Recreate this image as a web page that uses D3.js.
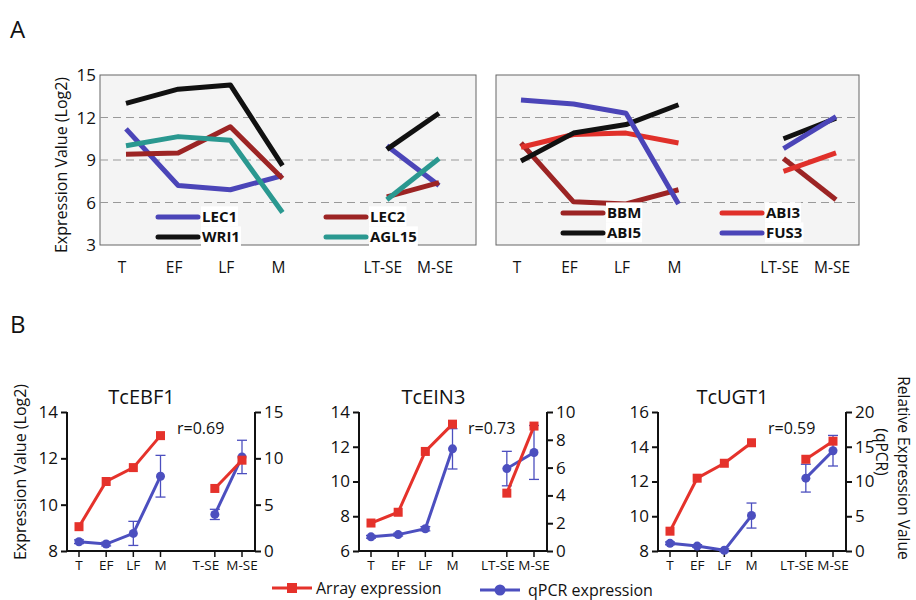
<!DOCTYPE html>
<html>
<head>
<meta charset="utf-8">
<script src="https://cdn.jsdelivr.net/npm/d3@7/dist/d3.min.js"></script>
<style>
  body { margin: 0; background: #fff; }
  text { font-family: "Open Sans", sans-serif; fill: #111; }
</style>
</head>
<body>
<div id="main"></div>
<script>
  'use strict';

  // ---- panel A data (Log2 expression) ----
  var stagesA = ['T', 'EF', 'LF', 'M', 'LT-SE', 'M-SE'];
  var ticksA = [3, 6, 9, 12, 15];

  var lec1  = [11.2, 7.2, 6.9, 7.9, 10.0, 7.2];
  var lec2  = [9.4, 9.5, 11.35, 7.7, 6.4, 7.4];
  var wri1  = [13.0, 14.0, 14.3, 8.6, 9.75, 12.3];
  var agl15 = [10.0, 10.65, 10.4, 5.3, 6.2, 9.1];

  var bbm   = [10.2, 6.05, 5.9, 6.9, 9.1, 6.2];
  var abi3  = [9.9, 10.8, 10.9, 10.2, 8.2, 9.5];
  var abi5  = [8.93, 10.9, 11.5, 12.9, 10.5, 11.95];
  var fus3  = [13.24, 12.95, 12.3, 5.9, 9.8, 12.06];

  // ---- panel B data ----
  var stagesB1 = ['T', 'EF', 'LF', 'M', 'T-SE', 'M-SE'];
  var stagesB  = ['T', 'EF', 'LF', 'M', 'LT-SE', 'M-SE'];

  var ebf1Array = [9.05, 11.0, 11.6, 12.98, 10.7, 11.92];
  var ebf1Qpcr  = [1.0, 0.75, 1.9, 8.07, 3.95, 10.15];
  var ebf1Err   = [0.2, 0.2, 1.3, 2.25, 0.55, 1.8];

  var ein3Array = [7.61, 8.23, 11.73, 13.3, 9.33, 13.19];
  var ein3Qpcr  = [1.02, 1.18, 1.6, 7.35, 5.93, 7.09];
  var ein3Err   = [0.1, 0.1, 0.15, 1.45, 1.24, 1.94];

  var ugt1Array = [9.14, 12.19, 13.05, 14.23, 13.28, 14.32];
  var ugt1Qpcr  = [1.1, 0.71, 0.1, 5.1, 10.48, 14.43];
  var ugt1Err   = [0.2, 0.2, 0.2, 1.8, 2.0, 2.2];

  var RED = '#e5322b', BLUE = '#4c4fbf';

  var svg = d3.select('#main').append('svg')
    .attr('width', 916)
    .attr('height', 600);

  svg.append('text').attr('x', 10).attr('y', 38)
    .style('font-size', '24px').text('A');
  svg.append('text').attr('x', 10).attr('y', 333)
    .style('font-size', '24px').text('B');

  // stage index -> slot, leaving a gap between M and the SE samples
  function slot(i) { return i < 4 ? i : i + 1; }

  // ---------------- panel A ----------------
  var yA = d3.scaleLinear().domain([3, 15]).range([245, 75]);

  function drawPanelA(box, xr, genes, legend, showY) {
    var g = svg.append('g');
    var x = d3.scaleLinear().domain([0, 6]).range(xr);

    g.append('rect')
      .attr('x', box[0]).attr('y', yA(15))
      .attr('width', box[1] - box[0]).attr('height', yA(3) - yA(15))
      .attr('fill', '#f4f4f4').attr('stroke', '#666').attr('stroke-width', 1);

    g.selectAll('line.grid').data([6, 9, 12]).enter().append('line')
      .attr('class', 'grid')
      .attr('x1', box[0]).attr('x2', box[1])
      .attr('y1', function (d) { return yA(d); })
      .attr('y2', function (d) { return yA(d); })
      .attr('stroke', '#999').attr('stroke-dasharray', '8,5');

    if (showY) {
      g.selectAll('text.ytick').data(ticksA).enter().append('text')
        .attr('class', 'ytick')
        .attr('x', box[0] - 4).attr('y', function (d) { return yA(d); })
        .attr('dy', '0.36em').attr('text-anchor', 'end')
        .style('font-size', '17px').text(function (d) { return d; });
      g.append('text')
        .attr('transform', 'translate(67,165) rotate(-90)')
        .attr('text-anchor', 'middle')
        .style('font-size', '16px').text('Expression Value (Log2)');
    }

    g.selectAll('text.xlab').data(stagesA).enter().append('text')
      .attr('class', 'xlab')
      .attr('x', function (d, i) { return x(slot(i)) - 4; })
      .attr('y', 273).attr('text-anchor', 'middle')
      .style('font-size', '15.5px').text(function (d) { return d; });

    var line = d3.line()
      .x(function (d) { return x(slot(d.i)); })
      .y(function (d) { return yA(d.v); });

    genes.forEach(function (gene) {
      var pts = gene.values.map(function (v, i) { return { i: i, v: v }; });
      [pts.slice(0, 4), pts.slice(4)].forEach(function (seg) {
        g.append('path').datum(seg)
          .attr('d', line)
          .attr('fill', 'none')
          .attr('stroke', gene.color)
          .attr('stroke-width', 5)
          .attr('stroke-linejoin', 'round');
      });
    });

    // legend
    legend.forEach(function (item) {
      var gene = genes[item.gene];
      var tx = item.x + 44;
      var t = g.append('text')
        .attr('x', tx).attr('y', item.y).attr('dy', '0.36em')
        .style('font-size', '15px').style('font-weight', 'bold')
        .text(gene.name);
      var bb = t.node().getBBox();
      g.insert('rect', function () { return t.node(); })
        .attr('x', bb.x - 1).attr('y', bb.y)
        .attr('width', bb.width + 2).attr('height', bb.height)
        .attr('fill', '#fff');
      g.append('line')
        .attr('x1', item.x).attr('x2', item.x + 40)
        .attr('y1', item.y).attr('y2', item.y)
        .attr('stroke', gene.color).attr('stroke-width', 5)
        .attr('stroke-linecap', 'round');
    });
  }

  drawPanelA([100, 476], [126, 439], [
      { name: 'LEC1', values: lec1, color: '#4b45b8' },
      { name: 'LEC2', values: lec2, color: '#9c2424' },
      { name: 'WRI1', values: wri1, color: '#111111' },
      { name: 'AGL15', values: agl15, color: '#2a9890' }
    ], [
      { gene: 0, x: 158, y: 217 },
      { gene: 1, x: 326, y: 217 },
      { gene: 2, x: 158, y: 237 },
      { gene: 3, x: 326, y: 237 }
    ], true);

  drawPanelA([496, 859], [521, 836], [
      { name: 'BBM', values: bbm, color: '#9c2424' },
      { name: 'ABI3', values: abi3, color: '#e0302a' },
      { name: 'ABI5', values: abi5, color: '#111111' },
      { name: 'FUS3', values: fus3, color: '#4b45b8' }
    ], [
      { gene: 0, x: 563, y: 213 },
      { gene: 1, x: 722, y: 213 },
      { gene: 2, x: 563, y: 233 },
      { gene: 3, x: 722, y: 233 }
    ], false);

  // ---------------- panel B ----------------
  function drawPanelB(cfg) {
    var g = svg.append('g');
    var left = cfg.left, right = cfg.left + 188;
    var x = d3.scaleLinear().domain([0, 6]).range([left + 12, left + 175]);
    var yL = d3.scaleLinear().domain(cfg.leftDomain).range([551, 412]);
    var yR = d3.scaleLinear().domain(cfg.rightDomain).range([551, 412]);
    var fmt = d3.format('d');

    var axL = g.append('g').attr('transform', 'translate(' + left + ',0)')
      .call(d3.axisLeft(yL).tickValues(cfg.leftTicks).tickFormat(fmt)
        .tickSize(6).tickPadding(3));
    var axR = g.append('g').attr('transform', 'translate(' + right + ',0)')
      .call(d3.axisRight(yR).tickValues(cfg.rightTicks).tickFormat(fmt)
        .tickSize(6).tickPadding(3));
    [axL, axR].forEach(function (ax) {
      ax.select('.domain').attr('stroke', '#111').attr('stroke-width', 2)
        .attr('d', 'M0,412V551');
      ax.selectAll('.tick line').attr('stroke', '#111').attr('stroke-width', 2);
      ax.selectAll('.tick text').style('font-size', '17px')
        .style('font-family', '"Open Sans", sans-serif').attr('fill', '#111');
    });

    g.append('line')
      .attr('x1', left).attr('x2', right).attr('y1', 551).attr('y2', 551)
      .attr('stroke', '#111').attr('stroke-width', 2);
    g.selectAll('line.xt').data(cfg.stages).enter().append('line')
      .attr('class', 'xt')
      .attr('x1', function (d, i) { return x(slot(i)); })
      .attr('x2', function (d, i) { return x(slot(i)); })
      .attr('y1', 551).attr('y2', 557)
      .attr('stroke', '#111').attr('stroke-width', 1.5);
    g.selectAll('text.xl').data(cfg.stages).enter().append('text')
      .attr('class', 'xl')
      .attr('x', function (d, i) { return x(slot(i)) - (i === 4 ? 9 : 0); })
      .attr('y', 570).attr('text-anchor', 'middle')
      .style('font-size', '13.5px').text(function (d) { return d; });

    g.append('text')
      .attr('x', x(2.3)).attr('y', 404).attr('text-anchor', 'middle')
      .style('font-size', '20px').text(cfg.title);
    g.append('text')
      .attr('x', cfg.left + cfg.rx).attr('y', 434)
      .style('font-size', '16px').text(cfg.r);

    var qpts = cfg.qpcr.map(function (v, i) { return { i: i, v: v, e: cfg.err[i] }; });
    var apts = cfg.array.map(function (v, i) { return { i: i, v: v }; });

    var lineQ = d3.line()
      .x(function (d) { return x(slot(d.i)); })
      .y(function (d) { return yR(d.v); });
    var lineA = d3.line()
      .x(function (d) { return x(slot(d.i)); })
      .y(function (d) { return yL(d.v); });

    // qPCR: error bars, lines, dots
    var eb = g.selectAll('g.err').data(qpts).enter().append('g')
      .attr('stroke', BLUE).attr('stroke-width', 1.3);
    eb.append('line')
      .attr('x1', function (d) { return x(slot(d.i)); })
      .attr('x2', function (d) { return x(slot(d.i)); })
      .attr('y1', function (d) { return yR(d.v - d.e); })
      .attr('y2', function (d) { return yR(d.v + d.e); });
    [-1, 1].forEach(function (s) {
      eb.append('line')
        .attr('x1', function (d) { return x(slot(d.i)) - 5; })
        .attr('x2', function (d) { return x(slot(d.i)) + 5; })
        .attr('y1', function (d) { return yR(d.v + s * d.e); })
        .attr('y2', function (d) { return yR(d.v + s * d.e); });
    });
    [qpts.slice(0, 4), qpts.slice(4)].forEach(function (seg) {
      g.append('path').datum(seg).attr('d', lineQ)
        .attr('fill', 'none').attr('stroke', BLUE).attr('stroke-width', 3);
    });
    g.selectAll('circle.q').data(qpts).enter().append('circle')
      .attr('cx', function (d) { return x(slot(d.i)); })
      .attr('cy', function (d) { return yR(d.v); })
      .attr('r', 4.5).attr('fill', BLUE);

    // array: lines and squares
    [apts.slice(0, 4), apts.slice(4)].forEach(function (seg) {
      g.append('path').datum(seg).attr('d', lineA)
        .attr('fill', 'none').attr('stroke', RED).attr('stroke-width', 3);
    });
    g.selectAll('rect.a').data(apts).enter().append('rect')
      .attr('x', function (d) { return x(slot(d.i)) - 4.5; })
      .attr('y', function (d) { return yL(d.v) - 4.5; })
      .attr('width', 9).attr('height', 9).attr('fill', RED);
  }

  drawPanelB({ left: 67, title: 'TcEBF1', r: 'r=0.69', rx: 110, stages: stagesB1,
    leftDomain: [8, 14], leftTicks: [8, 10, 12, 14],
    rightDomain: [0, 15], rightTicks: [0, 5, 10, 15],
    array: ebf1Array, qpcr: ebf1Qpcr, err: ebf1Err });
  drawPanelB({ left: 359, title: 'TcEIN3', r: 'r=0.73', rx: 109, stages: stagesB,
    leftDomain: [6, 14], leftTicks: [6, 8, 10, 12, 14],
    rightDomain: [0, 10], rightTicks: [0, 2, 4, 6, 8, 10],
    array: ein3Array, qpcr: ein3Qpcr, err: ein3Err });
  drawPanelB({ left: 658, title: 'TcUGT1', r: 'r=0.59', rx: 110, stages: stagesB,
    leftDomain: [8, 16], leftTicks: [8, 10, 12, 14, 16],
    rightDomain: [0, 20], rightTicks: [0, 5, 10, 15, 20],
    array: ugt1Array, qpcr: ugt1Qpcr, err: ugt1Err });

  svg.append('text')
    .attr('transform', 'translate(26,472) rotate(-90)')
    .attr('text-anchor', 'middle')
    .style('font-size', '16px').text('Expression Value (Log2)');
  svg.append('text')
    .attr('transform', 'translate(898,468) rotate(90)')
    .attr('text-anchor', 'middle')
    .style('font-size', '15.5px').text('Relative Expression Value');
  svg.append('text')
    .attr('transform', 'translate(876,452) rotate(90)')
    .attr('text-anchor', 'middle')
    .style('font-size', '15.5px').text('(qPCR)');

  // bottom legend
  var leg = svg.append('g');
  leg.append('line').attr('x1', 272).attr('x2', 312).attr('y1', 588).attr('y2', 588)
    .attr('stroke', RED).attr('stroke-width', 3);
  leg.append('rect').attr('x', 287).attr('y', 583).attr('width', 10).attr('height', 10)
    .attr('fill', RED);
  leg.append('text').attr('x', 316).attr('y', 588).attr('dy', '0.36em')
    .style('font-size', '16px').text('Array expression');
  leg.append('line').attr('x1', 480).attr('x2', 520).attr('y1', 590).attr('y2', 590)
    .attr('stroke', BLUE).attr('stroke-width', 3);
  leg.append('circle').attr('cx', 500).attr('cy', 590).attr('r', 5.5).attr('fill', BLUE);
  leg.append('text').attr('x', 528).attr('y', 590).attr('dy', '0.36em')
    .style('font-size', '16px').text('qPCR expression');
</script>
</body>
</html>
